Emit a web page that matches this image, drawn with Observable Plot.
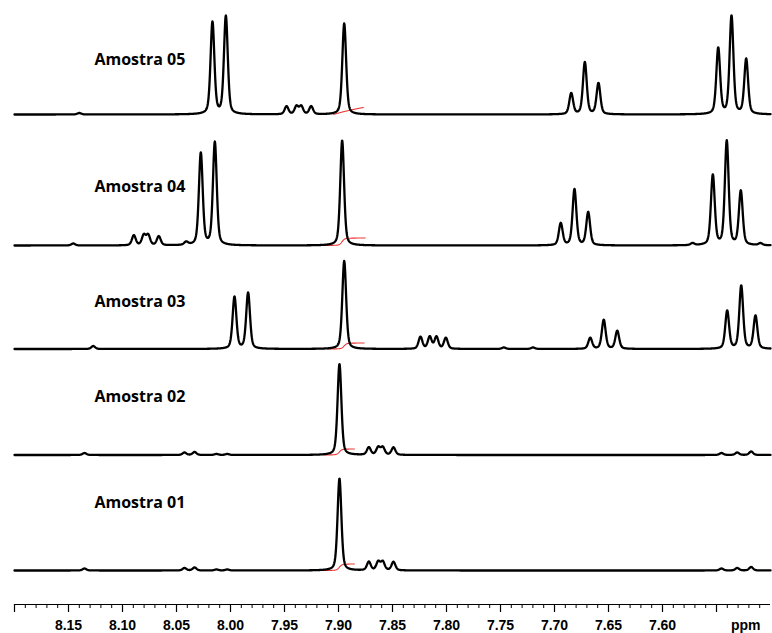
<!DOCTYPE html>
<html><head><meta charset="utf-8">
<script src="https://cdn.jsdelivr.net/npm/d3@7"></script>
<script src="https://cdn.jsdelivr.net/npm/@observablehq/plot@0.6"></script>
<style>html,body{margin:0;padding:0;background:#fff}</style>
</head><body><div id="chart"></div>
<script>
// ---- data ----
const samples = ["Amostra 05", "Amostra 04", "Amostra 03", "Amostra 02", "Amostra 01"];

// peak positions (ppm) and peak intensities (relative units)
const ppm05 = [8.140, 8.0167, 8.0043, 7.9481, 7.9389, 7.9345, 7.9253, 7.8947, 7.6845, 7.6719, 7.6593, 7.5484, 7.5361, 7.5225];
const int05 = [1.5, 92, 98, 8, 8, 8, 8, 91, 21, 52, 31, 66, 98, 55];

const ppm04 = [8.1456, 8.0895, 8.0803, 8.0762, 8.0664, 8.041, 8.0275, 8.0145, 7.8966, 7.6942, 7.6815, 7.6688, 7.5722, 7.5534, 7.5405, 7.5275, 7.5093];
const int04 = [2, 10, 10, 10, 9, 3, 92, 103, 105, 22, 56, 33, 2, 70, 104, 54, 2];

const ppm03 = [8.1271, 7.9963, 7.9837, 7.8947, 7.8241, 7.8155, 7.8093, 7.8006, 7.7469, 7.7199, 7.6669, 7.6544, 7.6419, 7.5401, 7.5271, 7.5139];
const int03 = [3, 52, 56, 88, 12, 12, 12, 11, 1.5, 1.5, 11, 29, 18, 38, 63, 33];

const ppm02 = [8.1352, 8.0426, 8.0333, 8.013, 8.003, 7.8991, 7.8719, 7.8632, 7.859, 7.8491, 7.5454, 7.5308, 7.5179];
const int02 = [2, 2.5, 3, 1, 1, 91, 7.5, 7.5, 7.5, 7.5, 2, 2.5, 3.5];

const ppm01 = [8.1352, 8.0426, 8.0333, 8.013, 8.003, 7.8991, 7.8719, 7.8632, 7.859, 7.8491, 7.5454, 7.5308, 7.5179];
const int01 = [2, 2.5, 3, 1, 1, 92, 8.5, 8.5, 8.5, 8.5, 2, 2.5, 3.5];

// integral (red) of the singlet: start ppm, end ppm, rise
const integralStart = [7.9046, 7.9139, 7.9102, 7.913, 7.913];
const integralEnd   = [7.8769, 7.875, 7.876, 7.8852, 7.8852];
const integralRise  = [7, 7.5, 6, 6, 6.5];

// axis ticks
const majorTicks = [8.20, 8.15, 8.10, 8.05, 8.00, 7.95, 7.90, 7.85, 7.80, 7.75, 7.70, 7.65, 7.60, 7.55];
const labeledTicks = [8.15, 8.10, 8.05, 8.00, 7.95, 7.90, 7.85, 7.80, 7.75, 7.70, 7.65, 7.60];
const tickLabels = ["8.15", "8.10", "8.05", "8.00", "7.95", "7.90", "7.85", "7.80", "7.75", "7.70", "7.65", "7.60"];
const minorTicks = d3.range(0, 70).map(i => +(8.20 - i * 0.01).toFixed(2));
const unitLabel = "ppm";

// ---- layout ----
const baseOffset = [490, 359, 255.5, 149.5, 34];
const labelRise = [55, 58.5, 47, 58.5, 67.5];
const labelX = 8.126;
const fwhm = 0.0042;   // line width (ppm)
const eta = 0.4;       // lorentzian fraction

const peakPpm = [ppm05, ppm04, ppm03, ppm02, ppm01];
const peakInt = [int05, int04, int03, int02, int01];

const grid = d3.range(0, 2801).map(i => 8.20 - i * 0.00025);
const g = fwhm / 2, sig = fwhm / 2.3548;
const shape = (p, p0, a) => {
  const d = p - p0;
  return a * (eta / (1 + (d / g) ** 2) + (1 - eta) * Math.exp(-d * d / (2 * sig * sig)));
};

const spec = [];
samples.forEach((s, k) => {
  for (const p of grid) {
    let v = 0;
    peakPpm[k].forEach((p0, j) => { v += shape(p, p0, peakInt[k][j]); });
    spec.push({sample: s, ppm: p, y: baseOffset[k] + v});
  }
});

// integral curves
const integ = [];
samples.forEach((s, k) => {
  const idx = peakInt[k].indexOf(d3.max(peakInt[k]));
  const p0 = peakPpm[k][idx];
  const pts = grid.filter(p => p <= integralStart[k] && p >= integralEnd[k]);
  let acc = 0;
  const cum = pts.map(p => (acc += shape(p, p0, 1)));
  const tot = acc;
  pts.forEach((p, i) => integ.push({sample: s, ppm: p, y: baseOffset[k] + integralRise[k] * cum[i] / tot}));
});

const labels = samples.map((s, k) => ({text: s, y: baseOffset[k] + labelRise[k]}));
const tickText = labeledTicks.map((t, i) => ({x: t, text: tickLabels[i]}));

const chart = Plot.plot({
  width: 772,
  height: 633,
  marginLeft: 14,
  marginRight: 2,
  marginTop: 0,
  marginBottom: 29,
  x: {domain: [8.20, 7.50], axis: null},
  y: {domain: [0, 604], axis: null},
  style: {background: "#fff", color: "#000"},
  marks: [
    Plot.ruleY([0], {stroke: "#000", strokeWidth: 1.2}),
    Plot.ruleX(minorTicks, {x: d => d, y1: 0, y2: -4, stroke: "#000", strokeWidth: 1}),
    Plot.ruleX(majorTicks, {x: d => d, y1: 0, y2: -8, stroke: "#000", strokeWidth: 1.2}),
    Plot.text(tickText, {x: "x", y: -21, text: "text", fill: "#000", fontSize: 14, fontWeight: "bold", fontFamily: "'Liberation Sans', Arial, sans-serif"}),
    Plot.text([unitLabel], {x: 7.523, y: -21, text: d => d, fill: "#000", fontSize: 14, fontWeight: "bold", fontFamily: "'Liberation Sans', Arial, sans-serif"}),
    Plot.line(integ, {x: "ppm", y: "y", z: "sample", stroke: "#e83a35", strokeWidth: 1.1}),
    Plot.line(spec, {x: "ppm", y: "y", z: "sample", stroke: "#000", strokeWidth: 2.3, strokeLinejoin: "round"}),
    Plot.text(labels, {x: () => labelX, y: "y", text: "text", textAnchor: "start", fill: "#000", fontSize: 16, fontWeight: "bold", fontFamily: "'Open Sans', 'Noto Sans', sans-serif"})
  ]
});
document.getElementById("chart").appendChild(chart);
</script>
</body></html>
